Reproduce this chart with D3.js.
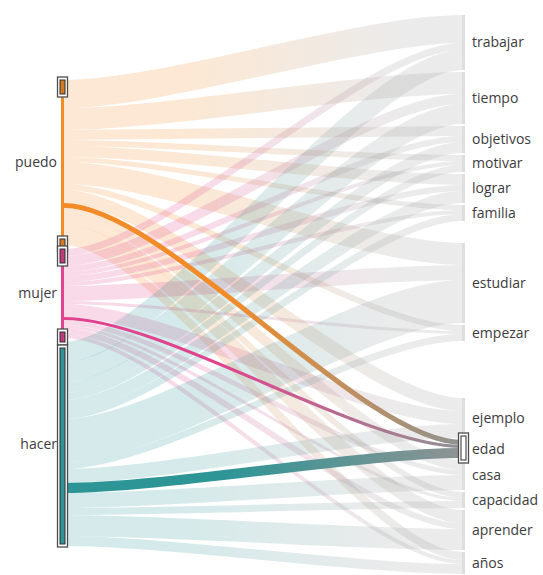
<!DOCTYPE html>
<html><head><meta charset="utf-8">
<script src="https://cdn.jsdelivr.net/npm/d3@7"></script>
<style>body{margin:0;background:#fff;} svg{display:block;}</style>
</head><body>
<svg id="chart" width="543" height="575"></svg>
<script>
// ---- data ----
const sources = ["puedo", "mujer", "hacer"];
const sourceColors = ["#F28C28", "#E0448E", "#2D9596"];
const targets = ["trabajar","tiempo","objetivos","motivar","lograr","familia","estudiar","empezar","ejemplo","edad","casa","capacidad","aprender","años"];
const puedoValues = [28,22,10,6,11,5,22,6,13,5,10,6,13,8];
const mujerValues = [7,10,6,4,6,4,15,3,13,3,5,3,6,4];
const hacerValues = [20,20,11,7,12,7,43,7,14,10,15,7,21,10];
const selectedTarget = "edad";

// ---- layout config ----
const W = 543, H = 575;
const xL = 64, xR = 462;
const leftTop = 80, leftPad = 4;
const rightTop = 15, rightPad = 2;
const extraGapAfter = {familia: 20, empezar: 55};

const matrix = [puedoValues, mujerValues, hacerValues];
const total = d3.sum(matrix.flat());
const h = d3.scaleLinear().domain([0, total]).range([0, total]);

const svg = d3.select("#chart");
const defs = svg.append("defs");

// nodes
const srcNodes = sources.map((name, i) => ({name, i, value: d3.sum(matrix[i])}));
let y = leftTop;
srcNodes.forEach(n => { n.y0 = y; n.y1 = y + h(n.value); y = n.y1 + leftPad; n.off = n.y0; });
const tgtNodes = targets.map((name, j) => ({name, j, value: d3.sum(matrix, r => r[j])}));
y = rightTop;
tgtNodes.forEach(n => { n.y0 = y; n.y1 = y + h(n.value); y = n.y1 + rightPad + (extraGapAfter[n.name] || 0); n.off = n.y0; });

// links
const links = [];
srcNodes.forEach((s, i) => {
  tgtNodes.forEach((t, j) => {
    const v = matrix[i][j];
    if (!v) return;
    links.push({s, t, v, i, j});
  });
});
srcNodes.forEach(s => {
  links.filter(l => l.s === s).sort((a,b)=>a.j-b.j).forEach(l => { l.ys = s.off + h(l.v)/2; s.off += h(l.v); });
});
tgtNodes.forEach(t => {
  links.filter(l => l.t === t).sort((a,b)=>a.i-b.i).forEach(l => { l.yt = t.off + h(l.v)/2; t.off += h(l.v); });
});

function linkPath(l) {
  const xi = d3.interpolateNumber(xL, xR);
  const c1 = xi(0.25), c2 = xi(0.75);
  const p = d3.path();
  p.moveTo(xL, l.ys);
  p.bezierCurveTo(c1, l.ys, c2, l.yt, xR, l.yt);
  return p.toString();
}

// gradients
sourceColors.forEach((c, i) => {
  const g = defs.append("linearGradient").attr("id", "bg" + i)
    .attr("gradientUnits", "userSpaceOnUse").attr("x1", xL).attr("x2", xR).attr("y1", 0).attr("y2", 0);
  g.append("stop").attr("offset", 0).attr("stop-color", c);
  g.append("stop").attr("offset", 0.3).attr("stop-color", c);
  g.append("stop").attr("offset", 0.85).attr("stop-color", "#9c9c9c");
  g.append("stop").attr("offset", 1).attr("stop-color", "#9c9c9c");
  const g2 = defs.append("linearGradient").attr("id", "hl" + i)
    .attr("gradientUnits", "userSpaceOnUse").attr("x1", xL).attr("x2", xR).attr("y1", 0).attr("y2", 0);
  g2.append("stop").attr("offset", 0).attr("stop-color", c);
  g2.append("stop").attr("offset", 0.4).attr("stop-color", c);
  g2.append("stop").attr("offset", 1).attr("stop-color", "#8f9393");
});

const bgLinks = links.filter(l => l.t.name !== selectedTarget);
const hlLinks = links.filter(l => l.t.name === selectedTarget);

svg.append("g").selectAll("path").data(bgLinks).join("path")
  .attr("d", linkPath).attr("fill", "none")
  .attr("stroke", l => `url(#bg${l.i})`).attr("stroke-opacity", 0.2)
  .attr("stroke-width", l => Math.max(1, h(l.v)));

svg.append("g").selectAll("path").data(hlLinks).join("path")
  .attr("d", linkPath).attr("fill", "none")
  .attr("stroke", l => `url(#hl${l.i})`)
  .attr("stroke-width", l => Math.max(1, h(l.v)));

// right nodes
svg.append("g").selectAll("rect").data(tgtNodes).join("rect")
  .attr("x", xR).attr("width", 3).attr("y", d => d.y0).attr("height", d => d.y1 - d.y0)
  .attr("fill", "#dedede");

// left nodes: thin coloured bars
svg.append("g").selectAll("rect").data(srcNodes).join("rect")
  .attr("x", xL - 3).attr("width", 3).attr("y", d => d.y0).attr("height", d => d.y1 - d.y0)
  .attr("fill", d => sourceColors[d.i]);

function box(g, x, y0, y1, fill) {
  g.append("rect").attr("x", x - 4.5).attr("y", y0).attr("width", 10).attr("height", y1 - y0)
    .attr("fill", "#fff").attr("stroke", "#4d4d4d").attr("stroke-width", 1.3);
  g.append("rect").attr("x", x - 2).attr("y", y0 + 3).attr("width", 5).attr("height", y1 - y0 - 6)
    .attr("fill", fill).attr("stroke", "#2f2f2f").attr("stroke-width", 1);
}
const boxes = svg.append("g");
srcNodes.forEach(n => {
  const c = d3.color(sourceColors[n.i]).darker(0.4).formatHex();
  if (n.name === "hacer") {
    box(boxes, xL - 2, n.y0 + 3, n.y1 + 1, sourceColors[n.i]);
  } else {
    box(boxes, xL - 2, n.y0 - 3, n.y0 + 17, c);
    box(boxes, xL - 2, n.y1 - 9, n.y1 + 7, c);
  }
});
const sel = tgtNodes.find(n => n.name === selectedTarget);
box(boxes, xR + 1, sel.y0 - 7, sel.y1 + 5, "#fff");

// labels
const font = "'Open Sans', sans-serif";
svg.append("g").selectAll("text").data(srcNodes).join("text")
  .attr("x", 57).attr("y", d => (d.y0 + d.y1) / 2 + 1).attr("text-anchor", "end")
  .attr("dominant-baseline", "middle").attr("font-family", font).attr("font-size", 14)
  .attr("fill", "#3c3c3c").text(d => d.name);
svg.append("g").selectAll("text").data(tgtNodes).join("text")
  .attr("x", 472).attr("y", d => (d.y0 + d.y1) / 2 + 1)
  .attr("dominant-baseline", "middle").attr("font-family", font).attr("font-size", 14)
  .attr("fill", "#3c3c3c").text(d => d.name);
</script>
</body></html>
